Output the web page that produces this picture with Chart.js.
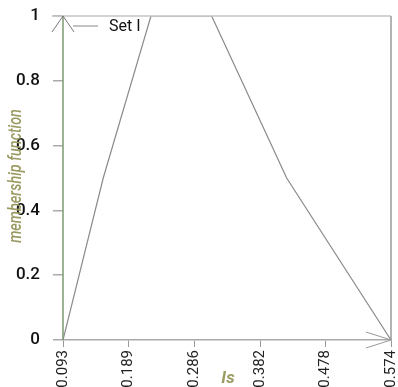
<!DOCTYPE html>
<html>
<head>
<meta charset="utf-8">
<script src="https://cdn.jsdelivr.net/npm/chart.js@4/dist/chart.umd.min.js"></script>
<style>
  html, body { margin: 0; padding: 0; background: #fff; }
  #wrap { width: 398px; height: 387px; }
</style>
</head>
<body>
<div id="wrap"><canvas id="c" width="398" height="387"></canvas></div>
<script>
// Membership function "Set I" over Is
const isValues = [0.093, 0.152, 0.222, 0.311, 0.421, 0.574];
const membership = [0, 0.5, 1, 1, 0.5, 0];
const xTickValues = [0.093, 0.189, 0.286, 0.382, 0.478, 0.574];
const yTickValues = [0, 0.2, 0.4, 0.6, 0.8, 1];
const seriesName = 'Set I';
const xTitle = 'Is';
const yTitle = 'membership function';

const points = isValues.map((v, i) => ({ x: v, y: membership[i] }));

const frameAndArrows = {
  id: 'frameAndArrows',
  afterDraw(chart) {
    const { ctx, chartArea: a } = chart;
    ctx.save();
    // top and right frame
    ctx.lineWidth = 1.5;
    ctx.strokeStyle = '#c4c4c4';
    ctx.beginPath();
    ctx.moveTo(52, a.top);
    ctx.lineTo(a.right, a.top);
    ctx.stroke();
    ctx.strokeStyle = '#9a9a9a';
    ctx.beginPath();
    ctx.moveTo(a.right, a.top);
    ctx.lineTo(a.right, a.bottom);
    ctx.stroke();
    // vertical axis line with arrow head
    ctx.strokeStyle = '#7d9a72';
    ctx.lineWidth = 1.5;
    ctx.beginPath();
    ctx.moveTo(a.left, a.bottom);
    ctx.lineTo(a.left, a.top);
    ctx.stroke();
    ctx.strokeStyle = '#777';
    ctx.lineWidth = 1;
    ctx.beginPath();
    ctx.moveTo(a.left - 11, a.top + 16);
    ctx.lineTo(a.left, a.top);
    ctx.lineTo(a.left + 11, a.top + 16);
    ctx.stroke();
    // horizontal axis arrow head
    ctx.strokeStyle = '#999';
    ctx.beginPath();
    ctx.moveTo(a.right - 25, a.bottom - 8);
    ctx.lineTo(a.right, a.bottom);
    ctx.lineTo(a.right - 25, a.bottom + 8);
    ctx.stroke();
    // legend entry
    ctx.strokeStyle = '#888';
    ctx.beginPath();
    ctx.moveTo(73, 26);
    ctx.lineTo(98, 26);
    ctx.stroke();
    ctx.fillStyle = '#111';
    ctx.font = '16px Roboto, "Liberation Sans", sans-serif';
    ctx.textBaseline = 'middle';
    ctx.textAlign = 'left';
    ctx.fillText(seriesName, 109, 27);
    // axis titles
    ctx.fillStyle = '#9a9a62';
    ctx.font = 'italic bold 17px Roboto, "Liberation Sans", sans-serif';
    ctx.textAlign = 'center';
    ctx.fillText(xTitle, 228, 379);
    ctx.translate(16, 176);
    ctx.rotate(-Math.PI / 2);
    ctx.scale(0.8, 1);
    ctx.font = 'italic 500 18px Roboto, "Liberation Sans", sans-serif';
    ctx.fillText(yTitle, 0, 0);
    ctx.restore();
  }
};

new Chart(document.getElementById('c'), {
  type: 'scatter',
  data: {
    datasets: [{
      label: seriesName,
      data: points,
      showLine: true,
      borderColor: '#8a8a8a',
      borderWidth: 1.2,
      pointRadius: 0,
      tension: 0
    }]
  },
  options: {
    responsive: false,
    animation: false,
    layout: { padding: { top: 16, right: 7, left: 0, bottom: 0 } },
    plugins: { legend: { display: false }, tooltip: { enabled: false } },
    scales: {
      x: {
        type: 'linear',
        min: 0.093,
        max: 0.574,
        afterBuildTicks(scale) { scale.ticks = xTickValues.map(v => ({ value: v })); },
        afterFit(scale) {
          scale.height = 47;
          scale.paddingLeft = 0;
          scale.paddingRight = 0;
        },
        border: { display: true, color: '#aaa', width: 1.5 },
        grid: { display: true, drawOnChartArea: false, drawTicks: true, tickLength: 7, color: '#999' },
        ticks: {
          minRotation: 90,
          maxRotation: 90,
          padding: 3,
          color: '#222',
          font: { family: 'Roboto, "Liberation Sans", sans-serif', size: 15 },
          callback: v => v.toFixed(3)
        }
      },
      y: {
        min: 0,
        max: 1,
        afterBuildTicks(scale) { scale.ticks = yTickValues.map(v => ({ value: v })); },
        afterFit(scale) {
          scale.width = 63;
          scale.paddingTop = 0;
          scale.paddingBottom = 0;
        },
        border: { display: false },
        grid: { display: true, drawOnChartArea: false, drawTicks: true, tickLength: 10, color: '#aaa', lineWidth: 1.5 },
        ticks: {
          padding: 13,
          color: '#111',
          font: { family: 'Roboto, "Liberation Sans", sans-serif', size: 17, weight: '500' },
          callback: v => (v === 0 || v === 1) ? String(v) : v.toFixed(1)
        }
      }
    }
  },
  plugins: [frameAndArrows]
});
</script>
</body>
</html>
